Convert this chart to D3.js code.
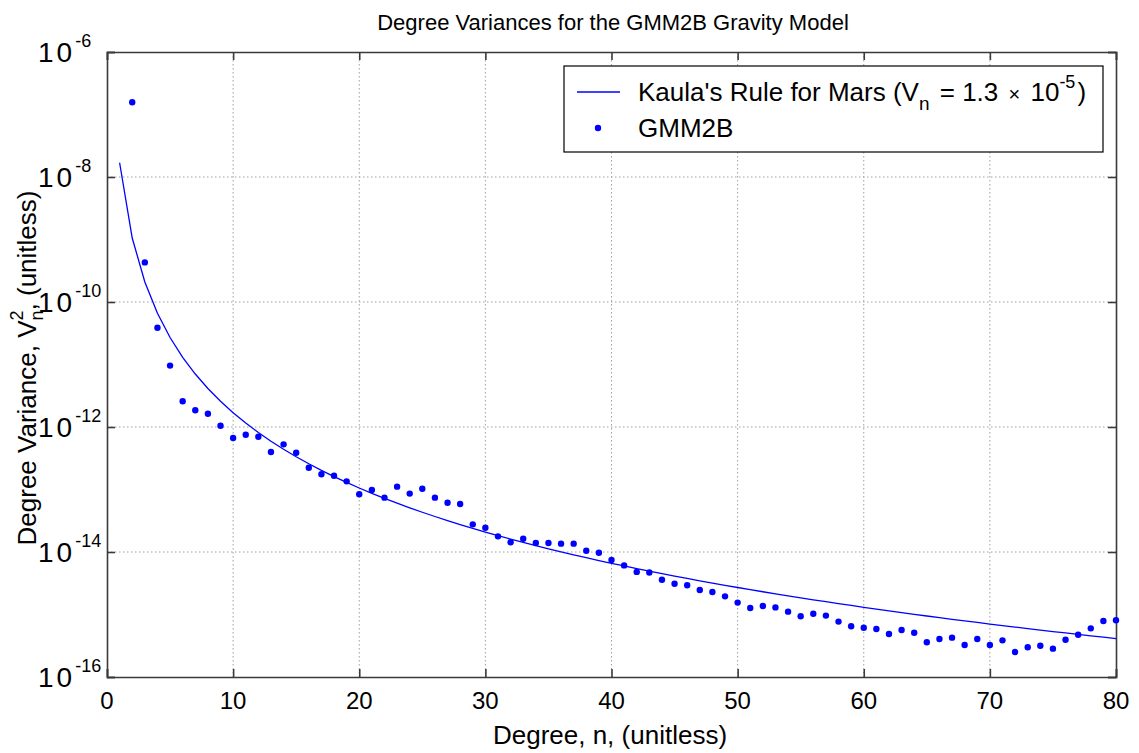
<!DOCTYPE html>
<html>
<head>
<meta charset="utf-8">
<script src="https://cdn.jsdelivr.net/npm/d3@7"></script>
<style>
  html, body { margin: 0; padding: 0; background: #fff; }
  svg { display: block; font-family: "Liberation Sans", Arial, Helvetica, sans-serif; }
</style>
</head>
<body>
<svg id="chart" width="1139" height="753"></svg>
<script>
// ---- data ----
const degrees = d3.range(1, 81);
// Kaula's rule curve values (n = 1..80)
const kaulaValues = [
  1.69e-8, 1.056e-9, 2.086e-10, 6.602e-11, 2.704e-11, 1.304e-11, 7.039e-12, 4.126e-12, 2.576e-12, 1.690e-12,
  1.154e-12, 8.150e-13, 5.917e-13, 4.399e-13, 3.338e-13, 2.579e-13, 2.023e-13, 1.610e-13, 1.297e-13, 1.056e-13,
  8.690e-14, 7.214e-14, 6.039e-14, 5.094e-14, 4.326e-14, 3.698e-14, 3.180e-14, 2.750e-14, 2.389e-14, 2.086e-14,
  1.830e-14, 1.612e-14, 1.425e-14, 1.265e-14, 1.126e-14, 1.006e-14, 9.017e-15, 8.105e-15, 7.305e-15, 6.602e-15,
  5.981e-15, 5.431e-15, 4.943e-15, 4.509e-15, 4.121e-15, 3.774e-15, 3.463e-15, 3.184e-15, 2.932e-15, 2.704e-15,
  2.498e-15, 2.311e-15, 2.142e-15, 1.988e-15, 1.847e-15, 1.718e-15, 1.601e-15, 1.493e-15, 1.395e-15, 1.304e-15,
  1.221e-15, 1.144e-15, 1.073e-15, 1.007e-15, 9.468e-16, 8.907e-16, 8.387e-16, 7.904e-16, 7.456e-16, 7.039e-16,
  6.651e-16, 6.289e-16, 5.951e-16, 5.636e-16, 5.341e-16, 5.066e-16, 4.808e-16, 4.566e-16, 4.339e-16, 4.126e-16
];
// GMM2B degree variances (n = 2..80)
const gmmDegrees = d3.range(2, 81);
const gmmValues = [
  1.57e-7, 4.3e-10, 3.88e-11, 9.6e-12, 2.58e-12, 1.85e-12, 1.63e-12, 1.05e-12, 6.67e-13,
  7.5e-13, 7.0e-13, 3.98e-13, 5.28e-13, 3.88e-13, 2.23e-13, 1.75e-13, 1.66e-13, 1.35e-13, 8.4e-14,
  9.8e-14, 7.4e-14, 1.11e-13, 8.6e-14, 1.03e-13, 7.4e-14, 6.15e-14, 5.86e-14, 2.77e-14, 2.45e-14,
  1.78e-14, 1.43e-14, 1.63e-14, 1.39e-14, 1.39e-14, 1.36e-14, 1.36e-14, 1.05e-14, 9.75e-15, 7.45e-15,
  6.1e-15, 4.8e-15, 4.7e-15, 3.6e-15, 3.1e-15, 2.93e-15, 2.47e-15, 2.29e-15, 1.95e-15, 1.55e-15,
  1.27e-15, 1.37e-15, 1.30e-15, 1.11e-15, 9.35e-16, 1.03e-15, 9.6e-16, 7.7e-16, 6.5e-16, 6.15e-16,
  5.86e-16, 4.88e-16, 5.65e-16, 5.1e-16, 3.59e-16, 4.05e-16, 4.26e-16, 3.25e-16, 4.05e-16, 3.25e-16,
  3.86e-16, 2.51e-16, 2.99e-16, 3.17e-16, 2.84e-16, 3.95e-16, 4.75e-16, 6.0e-16, 7.87e-16, 8.07e-16
];
const xTicks = [0, 10, 20, 30, 40, 50, 60, 70, 80];
const yTickExponents = [-16, -14, -12, -10, -8, -6];

const titleText = "Degree Variances for the GMM2B Gravity Model";
const xLabelText = "Degree, n, (unitless)";
const legendLineText = "Kaula's Rule for Mars";
const legendDotText = "GMM2B";

// ---- layout ----
const svg = d3.select("#chart");
const L = 107, R = 1116, T = 52, B = 677;
const x = d3.scaleLinear().domain([0, 80]).range([L, R]);
const y = d3.scaleLog().domain([1e-16, 1e-6]).range([B, T]);
const blue = "#0000ff";
const axisColor = "#3a3a3a";

// grid
const grid = svg.append("g");
xTicks.filter(t => t > 0 && t < 80).forEach(t => {
  grid.append("line").attr("x1", x(t)).attr("x2", x(t)).attr("y1", T).attr("y2", B)
    .attr("stroke", "#a0a0a0").attr("stroke-width", 1).attr("stroke-dasharray", "1.5,2.5");
});
yTickExponents.filter(e => e > -16 && e < -6).forEach(e => {
  grid.append("line").attr("x1", L).attr("x2", R).attr("y1", y(Math.pow(10, e))).attr("y2", y(Math.pow(10, e)))
    .attr("stroke", "#a0a0a0").attr("stroke-width", 1).attr("stroke-dasharray", "1.5,2.5");
});

// axes with inward ticks on all sides
const tickLen = 8;
const yTickVals = yTickExponents.map(e => Math.pow(10, e));
const axB = d3.axisBottom(x).tickValues(xTicks).tickSize(-tickLen).tickFormat("");
const axT = d3.axisTop(x).tickValues(xTicks).tickSize(-tickLen).tickFormat("");
const axL = d3.axisLeft(y).tickValues(yTickVals).tickSize(-tickLen).tickFormat("");
const axR = d3.axisRight(y).tickValues(yTickVals).tickSize(-tickLen).tickFormat("");
[[axB, `translate(0,${B})`], [axT, `translate(0,${T})`], [axL, `translate(${L},0)`], [axR, `translate(${R},0)`]]
  .forEach(([ax, tr]) => {
    const g = svg.append("g").attr("transform", tr).call(ax);
    g.selectAll("path").attr("stroke", axisColor).attr("stroke-width", 1.6);
    g.selectAll("line").attr("stroke", axisColor).attr("stroke-width", 1.6);
  });

// x tick labels
svg.append("g").selectAll("text").data(xTicks).join("text")
  .attr("x", d => x(d)).attr("y", 709).attr("text-anchor", "middle")
  .attr("font-size", 24).attr("fill", "#000").text(d => d);

// y tick labels
const yl = svg.append("g");
yTickExponents.forEach(e => {
  const t = yl.append("text").attr("x", 38).attr("y", y(Math.pow(10, e)) + 10)
    .attr("font-size", 28).attr("fill", "#000");
  t.append("tspan").attr("letter-spacing", 3).text("10");
  t.append("tspan").attr("dy", -15).attr("font-size", 18).text(String(e));
});

// Kaula line
const line = d3.line().x((d, i) => x(degrees[i])).y(d => y(d));
svg.append("path").datum(kaulaValues).attr("d", line)
  .attr("fill", "none").attr("stroke", blue).attr("stroke-width", 1.3);

// GMM2B dots
svg.append("g").selectAll("circle").data(gmmValues).join("circle")
  .attr("cx", (d, i) => x(gmmDegrees[i])).attr("cy", d => y(d)).attr("r", 3.2)
  .attr("fill", blue);

// title
svg.append("text").attr("x", 613).attr("y", 30).attr("text-anchor", "middle")
  .attr("font-size", 22).attr("fill", "#000").text(titleText);

// x label
svg.append("text").attr("x", 610).attr("y", 744).attr("text-anchor", "middle")
  .attr("font-size", 26).attr("fill", "#000").text(xLabelText);

// y label
const ylab = svg.append("text").attr("transform", "translate(36,368) rotate(-90)")
  .attr("text-anchor", "middle").attr("font-size", 26).attr("fill", "#000");
ylab.append("tspan").text("Degree Variance, V");
ylab.append("tspan").attr("dy", 7).attr("font-size", 18).text("n");
ylab.append("tspan").attr("dx", -10).attr("dy", -20).attr("font-size", 18).text("2");
ylab.append("tspan").attr("dy", 13).text(", (unitless)");

// legend
const lg = svg.append("g");
lg.append("rect").attr("x", 564).attr("y", 66).attr("width", 539).attr("height", 86)
  .attr("fill", "#fff").attr("stroke", "#000").attr("stroke-width", 1.2);
lg.append("line").attr("x1", 577).attr("x2", 620).attr("y1", 92).attr("y2", 92)
  .attr("stroke", blue).attr("stroke-width", 1.3);
const lt = lg.append("text").attr("x", 638).attr("y", 101).attr("font-size", 26).attr("fill", "#000");
lt.append("tspan").text(legendLineText + " (V");
lt.append("tspan").attr("dy", 9).attr("font-size", 19).text("n");
lt.append("tspan").attr("dy", -9).attr("dx", 3).text(" = 1.3 ");
lt.append("tspan").attr("dx", 3).attr("font-size", 20).text("\u00d7");
lt.append("tspan").attr("dx", 3).text(" 10");
lt.append("tspan").attr("dy", -13).attr("font-size", 18).text("-5");
lt.append("tspan").attr("dy", 13).attr("dx", 2).text(")");
lg.append("circle").attr("cx", 598).attr("cy", 128).attr("r", 3.2).attr("fill", blue);
lg.append("text").attr("x", 638).attr("y", 137).attr("font-size", 26).attr("fill", "#000").text(legendDotText);
</script>
</body>
</html>
